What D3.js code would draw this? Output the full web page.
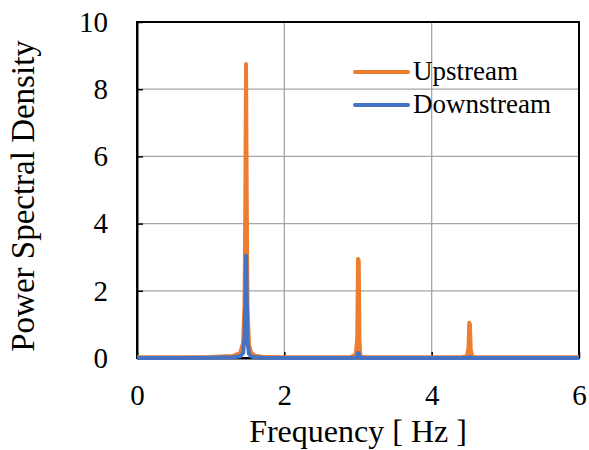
<!DOCTYPE html>
<html>
<head>
<meta charset="utf-8">
<script src="https://cdn.jsdelivr.net/npm/d3@7"></script>
<style>
  body { margin: 0; background: #fff; }
  text { font-family: "Liberation Serif", "Times New Roman", serif; fill: #000; }
</style>
</head>
<body>
<svg width="589" height="450"></svg>
<script>
// frequency samples [Hz]
const freq = [0, 0.5, 1.0, 1.3, 1.4, 1.44, 1.46, 1.47, 1.48, 1.49, 1.5, 1.52, 1.55, 1.6, 1.7, 2.0, 2.5,
    2.9, 2.97, 2.99, 3.0, 3.01, 3.02, 3.03, 3.05, 3.1, 3.5, 4.0, 4.4, 4.48, 4.5, 4.51, 4.52, 4.53, 4.55, 4.6, 5.0, 5.5, 6.0];
const upstream = [0.02, 0.02, 0.03, 0.06, 0.15, 0.45, 1.6, 4.5, 8.75, 4.6, 1.5, 0.4, 0.15, 0.07, 0.04, 0.02, 0.02,
    0.03, 0.1, 0.6, 2.95, 2.9, 0.5, 0.1, 0.04, 0.03, 0.02, 0.02, 0.02, 0.05, 0.3, 1.05, 1.0, 0.25, 0.04, 0.02, 0.02, 0.02, 0.02];
const downstream = [0.0, 0.0, 0.01, 0.02, 0.05, 0.15, 0.6, 1.6, 3.05, 1.7, 0.5, 0.12, 0.05, 0.02, 0.01, 0.0, 0.0,
    0.0, 0.01, 0.04, 0.15, 0.14, 0.03, 0.01, 0.0, 0.0, 0.0, 0.0, 0.0, 0.0, 0.01, 0.03, 0.03, 0.01, 0.0, 0.0, 0.0, 0.0, 0.0];
const xTicks = [0, 2, 4, 6];
const yTicks = [0, 2, 4, 6, 8, 10];

const svg = d3.select("svg");
const margin = { left: 137, right: 10, top: 22, bottom: 92 };
const width = 589 - margin.left - margin.right;
const height = 450 - margin.top - margin.bottom;

const x = d3.scaleLinear().domain([0, 6]).range([0, width]);
const y = d3.scaleLinear().domain([0, 10]).range([height, 0]);

const g = svg.append("g").attr("transform", `translate(${margin.left},${margin.top})`);

// grid
g.selectAll(".hgrid").data(yTicks.slice(1, -1)).enter().append("line")
    .attr("x1", 0).attr("x2", width)
    .attr("y1", d => y(d)).attr("y2", d => y(d))
    .attr("stroke", "#a6a6a6").attr("stroke-width", 1.3);
g.selectAll(".vgrid").data(xTicks.slice(1, -1)).enter().append("line")
    .attr("x1", d => x(d)).attr("x2", d => x(d))
    .attr("y1", 0).attr("y2", height)
    .attr("stroke", "#a6a6a6").attr("stroke-width", 1.3);

// axes (inside ticks)
const fmt = d3.format("d");
const xAxis = g.append("g").attr("transform", `translate(0,${height})`)
    .call(d3.axisBottom(x).tickValues(xTicks).tickFormat(fmt).tickSizeInner(-6).tickSizeOuter(0).tickPadding(26));
const yAxis = g.append("g")
    .call(d3.axisLeft(y).tickValues(yTicks).tickFormat(fmt).tickSizeInner(-6).tickSizeOuter(0).tickPadding(29));
[xAxis, yAxis].forEach(a => {
    a.select(".domain").attr("stroke", "#000").attr("stroke-width", 2);
    a.selectAll(".tick line").attr("stroke", "#000").attr("stroke-width", 1.5);
    a.selectAll("text").style("font-family", "Liberation Serif").style("font-size", "29px");
});

// frame
g.append("rect").attr("width", width).attr("height", height)
    .attr("fill", "none").attr("stroke", "#000").attr("stroke-width", 2);

const line = d3.line().x((d, i) => x(freq[i])).y(d => y(d));

g.append("path").datum(upstream).attr("d", line)
    .attr("fill", "none").attr("stroke", "#ed7d31").attr("stroke-width", 4).attr("stroke-linejoin", "round");
g.append("path").datum(downstream).attr("d", line)
    .attr("fill", "none").attr("stroke", "#4472c4").attr("stroke-width", 4).attr("stroke-linejoin", "round");

// legend
const legend = [["Upstream", "#ed7d31"], ["Downstream", "#4472c4"]];
const lg = svg.append("g").attr("transform", "translate(355,72)");
legend.forEach(([name, col], i) => {
    lg.append("line").attr("x1", 0).attr("x2", 53).attr("y1", i * 33).attr("y2", i * 33)
        .attr("stroke", col).attr("stroke-width", 4).attr("stroke-linecap", "round");
    lg.append("text").attr("x", 58).attr("y", i * 33 + 8).style("font-size", "27px").text(name);
});

// axis titles
svg.append("text").attr("x", margin.left + width / 2).attr("y", 442)
    .attr("text-anchor", "middle").style("font-size", "32px").text("Frequency [ Hz ]");
svg.append("text").attr("transform", "translate(34,196) rotate(-90)")
    .attr("text-anchor", "middle").style("font-size", "33px").text("Power Spectral Density");
</script>
</body>
</html>
